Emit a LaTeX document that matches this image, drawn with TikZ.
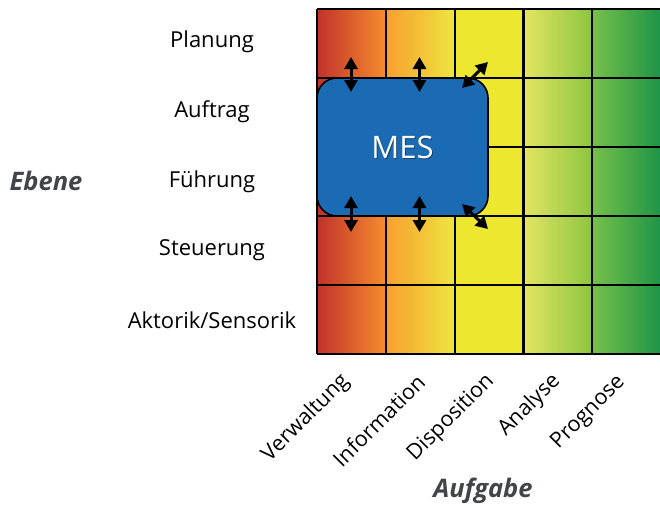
\documentclass[tikz,border=0pt]{standalone}
\usepackage{fontspec}
\setmainfont{Open Sans}
\usetikzlibrary{arrows.meta}
\definecolor{mesblue}{HTML}{1B6BB4}
\definecolor{axisgray}{HTML}{414449}
\definecolor{cAa}{HTML}{C1312B}
\definecolor{cAb}{HTML}{F68C2E}
\definecolor{cBa}{HTML}{F89E30}
\definecolor{cBb}{HTML}{EEE63E}
\definecolor{cC}{HTML}{EDE72F}
\definecolor{cDa}{HTML}{E3E562}
\definecolor{cDb}{HTML}{8DC540}
\definecolor{cEa}{HTML}{76C04A}
\definecolor{cEb}{HTML}{1D9447}
\tikzset{
  rowlabel/.style={font=\fontsize{22}{26}\selectfont, text=black, anchor=center},
  collabel/.style={font=\fontsize{21.5}{26}\selectfont, text=black, rotate=45, anchor=east, inner sep=0pt},
  axislabel/.style={font=\fontsize{25.5}{30}\selectfont\bfseries\itshape, text=axisgray},
  gridline/.style={line width=2.2pt, black},
  dblarrow/.style={line width=3pt, {Triangle[width=13pt,length=12pt]}-{Triangle[width=13pt,length=12pt]}},
  mesbox/.style={draw=black, line width=1.6pt, fill=mesblue, rounded corners=20pt}
}
\begin{document}
\begin{tikzpicture}[x=1pt,y=-1pt]
\useasboundingbox (0,0) rectangle (660,507);
% column shadings
\shade[left color=cAa, right color=cAb] (317,9) rectangle (385.8,354);
\shade[left color=cBa, right color=cBb] (385.8,9) rectangle (454.6,354);
\fill[cC] (454.6,9) rectangle (523.4,354);
\shade[left color=cDa, right color=cDb] (523.4,9) rectangle (592.2,354);
\shade[left color=cEa, right color=cEb] (592.2,9) rectangle (661,354);
% grid
\foreach \x in {317,385.8,454.6,523.4,592.2,661} \draw[gridline] (\x,9) -- (\x,354);
\foreach \y in {9,78,147,216,285,354} \draw[gridline] (317,\y) -- (661,\y);
% MES box
\path[mesbox] (317,78) rectangle (488,216);
\node (mes) at (402.5,147) {};
\node[text=black, opacity=0.35, font=\fontsize{31}{36}\selectfont] at (403.5,148.5) {MES};
\node[text=white, font=\fontsize{31}{36}\selectfont] (meslabel) at (402.5,147) {MES};
% arrow end points
\coordinate (a1t) at (351,57); \coordinate (a1b) at (351,92);
\coordinate (a2t) at (419.5,57); \coordinate (a2b) at (419.5,92);
\coordinate (a3t) at (351,196); \coordinate (a3b) at (351,232);
\coordinate (a4t) at (419.5,196); \coordinate (a4b) at (419.5,232);
\coordinate (d1a) at (462,88); \coordinate (d1b) at (488,62);
\coordinate (d2a) at (462,204); \coordinate (d2b) at (488,229);
\draw[dblarrow] (a1t) -- (a1b);
\draw[dblarrow] (a2t) -- (a2b);
\draw[dblarrow] (a3t) -- (a3b);
\draw[dblarrow] (a4t) -- (a4b);
\draw[dblarrow] (d1a) -- (d1b);
\draw[dblarrow] (d2a) -- (d2b);
% row labels
\node[rowlabel] (r1) at (212,42) {Planung};
\node[rowlabel] (r2) at (212,112) {Auftrag};
\node[rowlabel] (r3) at (212,182) {Führung};
\node[rowlabel] (r4) at (212,250) {Steuerung};
\node[rowlabel] (r5) at (212,320) {Aktorik/Sensorik};
% column labels
\node[collabel] (c1) at (346,378) {Verwaltung};
\node[collabel] (c2) at (421,378) {Information};
\node[collabel] (c3) at (491,378) {Disposition};
\node[collabel] (c4) at (557,378) {Analyse};
\node[collabel] (c5) at (622,379) {Prognose};
% axis labels
\node[axislabel] (ebene) at (46,181) {Ebene};
\node[axislabel] (aufgabe) at (483,491) {Aufgabe};
\end{tikzpicture}
\end{document}
